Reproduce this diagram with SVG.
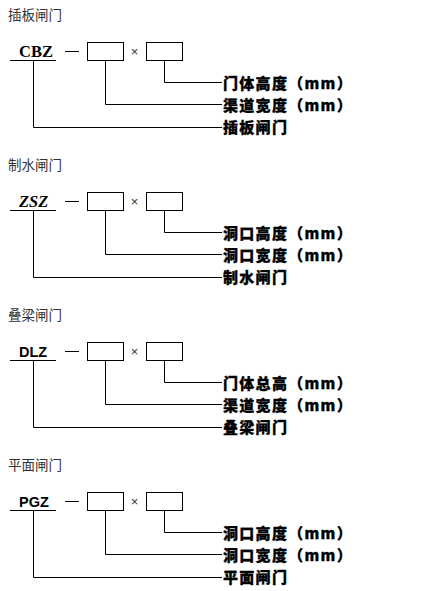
<svg xmlns="http://www.w3.org/2000/svg" width="430" height="591" viewBox="0 0 430 591">
<style>
.title{font-family:"Noto Sans CJK SC","Noto Sans",sans-serif;font-size:13.5px;fill:#333}
.code-s{font-family:"Liberation Serif",serif;font-weight:bold;font-size:16.5px;fill:#000}
.code-a{font-family:"Liberation Sans",Arial,sans-serif;font-weight:bold;font-size:14.5px;fill:#000}
.lbl{font-family:"Noto Sans CJK SC","Noto Sans",sans-serif;font-weight:900;font-size:15px;letter-spacing:1.3px;fill:#000;stroke:#000;stroke-width:0.3}
.x{font-family:"Liberation Sans",sans-serif;font-size:13px;fill:#333}
.box{fill:#fff;stroke:#000;stroke-width:1}
.ln{fill:none;stroke:#000;stroke-width:1}
</style>
<rect width="430" height="591" fill="#fff"/>

<!-- Section 1 -->
<g id="sec-cbz">
  <g id="cbz-title"><text class="title" x="8" y="20">插板闸门</text></g>
  <g id="cbz-code"><text class="code-s" x="19" y="56.5">CBZ</text><line class="ln" x1="10" y1="60.5" x2="56" y2="60.5"/></g>
  <g id="cbz-dash"><line class="ln" x1="65" y1="51.5" x2="79" y2="51.5"/></g>
  <g id="cbz-box1"><rect class="box" x="87.5" y="42.5" width="36" height="18"/></g>
  <g id="cbz-times"><text class="x" x="134.5" y="56" text-anchor="middle">×</text></g>
  <g id="cbz-box2"><rect class="box" x="146.5" y="42.5" width="36" height="18"/></g>
  <g id="cbz-labels">
    <text class="lbl" x="223" y="88.5">门体高度（mm）</text>
    <text class="lbl" x="223" y="110.5">渠道宽度（mm）</text>
    <text class="lbl" x="223" y="133">插板闸门</text>
  </g>
  <g id="cbz-connectors">
    <polyline class="ln" points="164.5,60.5 164.5,82.5 222,82.5"/>
    <polyline class="ln" points="105.5,60.5 105.5,104.5 222,104.5"/>
    <polyline class="ln" points="33.5,60.5 33.5,127.5 222,127.5"/>
  </g>
</g>

<!-- Section 2 -->
<g id="sec-zsz" transform="translate(0,150)">
  <g id="zsz-title"><text class="title" x="8" y="20">制水闸门</text></g>
  <g id="zsz-code"><text class="code-s" x="19" y="56.5" font-style="italic">ZSZ</text><line class="ln" x1="10" y1="60.5" x2="56" y2="60.5"/></g>
  <g id="zsz-dash"><line class="ln" x1="65" y1="51.5" x2="79" y2="51.5"/></g>
  <g id="zsz-box1"><rect class="box" x="87.5" y="42.5" width="36" height="18"/></g>
  <g id="zsz-times"><text class="x" x="134.5" y="56" text-anchor="middle">×</text></g>
  <g id="zsz-box2"><rect class="box" x="146.5" y="42.5" width="36" height="18"/></g>
  <g id="zsz-labels">
    <text class="lbl" x="223" y="88.5">洞口高度（mm）</text>
    <text class="lbl" x="223" y="110.5">洞口宽度（mm）</text>
    <text class="lbl" x="223" y="133">制水闸门</text>
  </g>
  <g id="zsz-connectors">
    <polyline class="ln" points="164.5,60.5 164.5,82.5 222,82.5"/>
    <polyline class="ln" points="105.5,60.5 105.5,104.5 222,104.5"/>
    <polyline class="ln" points="33.5,60.5 33.5,127.5 222,127.5"/>
  </g>
</g>

<!-- Section 3 -->
<g id="sec-dlz" transform="translate(0,300)">
  <g id="dlz-title"><text class="title" x="8" y="20">叠梁闸门</text></g>
  <g id="dlz-code"><text class="code-a" x="19" y="57">DLZ</text><line class="ln" x1="10" y1="60.5" x2="56" y2="60.5"/></g>
  <g id="dlz-dash"><line class="ln" x1="65" y1="51.5" x2="79" y2="51.5"/></g>
  <g id="dlz-box1"><rect class="box" x="87.5" y="42.5" width="36" height="18"/></g>
  <g id="dlz-times"><text class="x" x="134.5" y="56" text-anchor="middle">×</text></g>
  <g id="dlz-box2"><rect class="box" x="146.5" y="42.5" width="36" height="18"/></g>
  <g id="dlz-labels">
    <text class="lbl" x="223" y="88.5">门体总高（mm）</text>
    <text class="lbl" x="223" y="110.5">渠道宽度（mm）</text>
    <text class="lbl" x="223" y="133">叠梁闸门</text>
  </g>
  <g id="dlz-connectors">
    <polyline class="ln" points="164.5,60.5 164.5,82.5 222,82.5"/>
    <polyline class="ln" points="105.5,60.5 105.5,104.5 222,104.5"/>
    <polyline class="ln" points="33.5,60.5 33.5,127.5 222,127.5"/>
  </g>
</g>

<!-- Section 4 -->
<g id="sec-pgz" transform="translate(0,450)">
  <g id="pgz-title"><text class="title" x="8" y="20">平面闸门</text></g>
  <g id="pgz-code"><text class="code-a" x="19" y="57">PGZ</text><line class="ln" x1="10" y1="60.5" x2="56" y2="60.5"/></g>
  <g id="pgz-dash"><line class="ln" x1="65" y1="51.5" x2="79" y2="51.5"/></g>
  <g id="pgz-box1"><rect class="box" x="87.5" y="42.5" width="36" height="18"/></g>
  <g id="pgz-times"><text class="x" x="134.5" y="56" text-anchor="middle">×</text></g>
  <g id="pgz-box2"><rect class="box" x="146.5" y="42.5" width="36" height="18"/></g>
  <g id="pgz-labels">
    <text class="lbl" x="223" y="88.5">洞口高度（mm）</text>
    <text class="lbl" x="223" y="110.5">洞口宽度（mm）</text>
    <text class="lbl" x="223" y="133">平面闸门</text>
  </g>
  <g id="pgz-connectors">
    <polyline class="ln" points="164.5,60.5 164.5,82.5 222,82.5"/>
    <polyline class="ln" points="105.5,60.5 105.5,104.5 222,104.5"/>
    <polyline class="ln" points="33.5,60.5 33.5,127.5 222,127.5"/>
  </g>
</g>
</svg>
